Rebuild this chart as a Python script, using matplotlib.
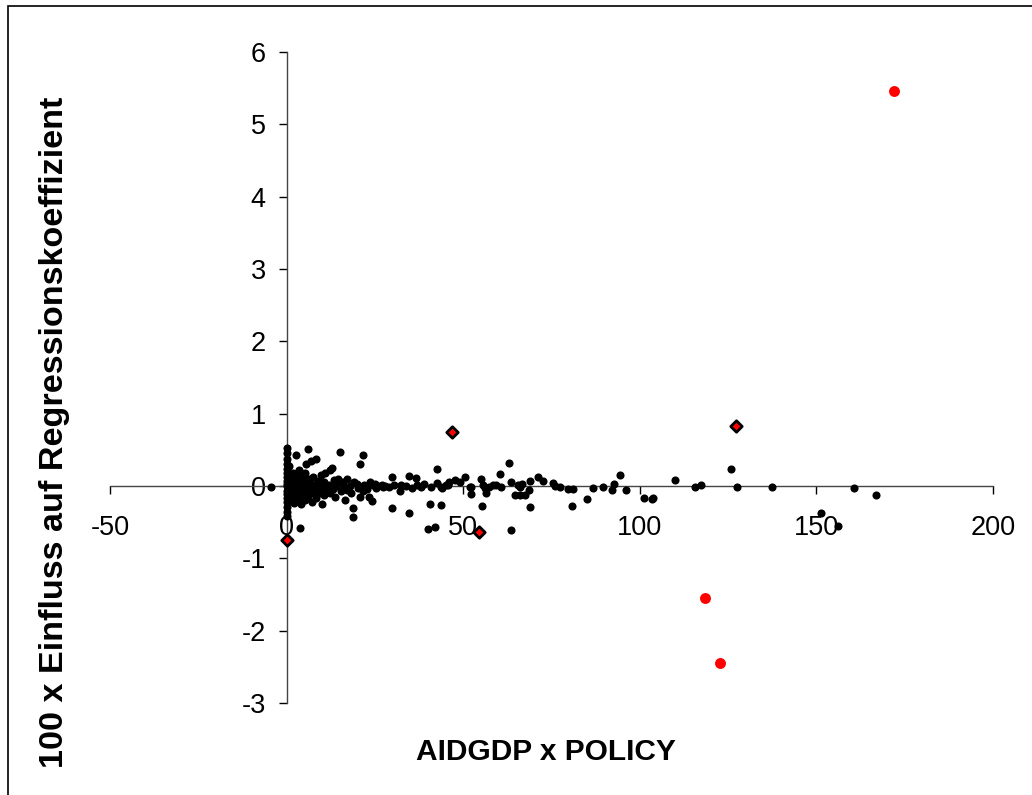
import matplotlib
matplotlib.use("Agg")
import matplotlib.pyplot as plt
from matplotlib.patches import Rectangle

plt.rcParams['font.family'] = ['Liberation Sans', 'DejaVu Sans']
plt.rcParams['axes.unicode_minus'] = False

# normale Beobachtungen (schwarz)
black_x = [
    -4.4,
    0.0, 0.0, 0.1, 0.0, 0.2, 0.1, 0.0, 0.2, 0.1, 0.0, 0.3, 0.1, 0.2, 0.0, 0.1, 0.0, 0.2, 0.0,
    0.8, 1.0, 0.9, 1.1, 1.0, 0.9, 1.2, 1.3,
    1.6, 1.5, 1.7, 1.8, 2.0, 2.1, 2.2, 2.0, 2.3,
    2.7, 2.8, 2.6, 2.9, 3.1, 3.2, 3.0, 3.7, 3.5, 3.6, 3.4,
    4.0, 4.1, 4.2, 4.3, 4.6, 4.7, 4.5, 5.0, 5.1, 5.2, 5.3, 5.6, 5.7,
    6.0, 6.1, 6.2, 6.3, 7.0, 6.9, 7.1, 7.2, 7.5, 7.6, 8.2, 8.0, 8.3, 8.4,
    9.0, 9.1, 9.2, 9.8, 9.9, 10.0, 10.5, 10.6, 10.8, 11.0, 11.3,
    12.2, 12.0, 12.3, 12.9, 13.0, 13.5, 13.6, 14.0, 14.5,
    15.0, 15.1, 15.3, 16.0, 16.2, 16.4, 17.0, 17.2, 18.0, 18.2, 18.8, 18.8, 19.0,
    20.0, 20.2, 20.7, 20.7, 21.6, 21.6, 21.8, 22.5, 22.8, 23.3, 23.5, 24.3, 24.5,
    25.0, 25.3, 26.0, 27.0, 27.3, 28.0, 29.0, 29.7, 29.7, 30.5, 32.0, 32.3, 33.7,
    34.6, 34.6, 35.5, 36.7, 36.9, 38.0, 39.0, 40.0, 40.7, 41.0, 41.9, 42.6, 42.7,
    43.6, 43.8, 44.1, 45.0, 45.6, 46.1, 47.6, 49.0, 50.4, 51.8, 52.1, 52.3,
    55.1, 55.6, 55.4, 56.1, 56.5, 57.3, 58.4, 59.4, 60.3, 60.8, 62.9, 63.4, 63.6,
    64.6, 65.5, 66.2, 66.2, 66.7, 67.4, 68.6, 68.8, 69.0, 71.3, 72.6, 75.4, 75.9,
    77.3, 79.6, 81.1, 80.7, 85.1, 86.7, 89.6, 92.2, 92.6, 94.5, 96.0,
    101.1, 103.5, 103.7, 109.9, 115.5, 117.4, 125.9, 127.4, 137.5,
    151.2, 156.2, 160.6, 166.9,
]
black_y = [
    -0.01,
    0.53, 0.45, 0.38, 0.31, 0.24, 0.18, 0.12, 0.07, 0.03, 0.00, -0.03, -0.07, -0.11, -0.17, -0.22, -0.29, -0.36, -0.41,
    0.28, 0.15, 0.08, 0.02, -0.04, -0.10, -0.20, 0.11,
    0.05, -0.05, -0.15, 0.18, 0.00, 0.12, -0.08, -0.24, 0.05,
    0.43, 0.00, -0.12, 0.07, 0.15, -0.06, 0.03, -0.58, 0.22, -0.18, 0.09,
    0.10, -0.02, -0.25, 0.04, -0.10, 0.13, 0.00, 0.05, -0.05, -0.20, 0.18, 0.30, -0.08,
    0.51, 0.00, -0.14, 0.09, 0.35, 0.03, -0.06, -0.22, 0.12, -0.10, 0.38, 0.02, -0.04, -0.17,
    0.07, -0.09, 0.00, 0.15, -0.03, -0.25, 0.05, -0.12, 0.18, 0.00, -0.06,
    0.22, 0.02, -0.10, 0.25, -0.04, 0.08, -0.15, 0.00, 0.10,
    0.47, 0.04, -0.07, 0.06, -0.02, -0.20, 0.10, -0.05, 0.00, -0.10, -0.30, -0.43, 0.05,
    0.03, -0.03, 0.31, -0.15, 0.43, -0.07, 0.02, 0.00, -0.04, -0.15, 0.05, -0.21, 0.01,
    0.03, -0.03, 0.00, 0.02, -0.02, 0.00, -0.02, 0.12, -0.30, 0.01, -0.07, 0.02, 0.00,
    0.14, -0.38, -0.03, 0.11, 0.01, -0.02, 0.03, -0.60, -0.25, -0.01, -0.56, 0.23, 0.04,
    -0.26, -0.01, -0.03, 0.02, 0.01, 0.05, 0.08, 0.06, 0.12, -0.01, -0.11, -0.01,
    0.09, 0.01, -0.28, -0.03, -0.09, -0.02, 0.02, 0.01, 0.16, -0.01, 0.32, -0.61, 0.05,
    -0.12, 0.01, -0.02, -0.13, 0.03, -0.12, -0.05, 0.07, -0.29, 0.13, 0.07, 0.04, 0.00,
    -0.02, -0.04, -0.04, -0.27, -0.18, -0.03, -0.01, -0.06, 0.03, 0.15, -0.05,
    -0.16, -0.18, -0.17, 0.08, -0.02, 0.01, 0.24, -0.01, -0.01,
    -0.37, -0.55, -0.03, -0.13,
]

# einflussreiche Beobachtungen (rot)
red_x = [171.9, 118.6, 122.6]
red_y = [5.46, -1.55, -2.45]

# markierte Beobachtungen (Raute)
dia_x = [46.7, 127.1, 0.0, 54.4]
dia_y = [0.75, 0.83, -0.75, -0.64]

fig = plt.figure(figsize=(10.32, 7.95), dpi=100)
ax = fig.add_axes([110 / 1032, 1 - 703 / 795, 883 / 1032, 651 / 795])

ax.scatter(black_x, black_y, s=34, c='black', linewidths=0, zorder=3, clip_on=False)
ax.scatter(red_x, red_y, s=62, c='#ff0000', linewidths=0, zorder=3, clip_on=False)
ax.scatter(dia_x, dia_y, s=34, marker='D', c='#ff0000', edgecolors='black',
           linewidths=2.0, zorder=4, clip_on=False)

ax.set_xlim(-50, 200)
ax.set_ylim(-3, 6)
ax.set_xticks(range(-50, 201, 50))
ax.set_yticks(range(-3, 7))

for side in ['top', 'right']:
    ax.spines[side].set_visible(False)
ax.spines['left'].set_position(('data', 0))
ax.spines['bottom'].set_position(('data', 0))
for side in ['left', 'bottom']:
    ax.spines[side].set_color('#444444')
    ax.spines[side].set_linewidth(1.0)

ax.tick_params(axis='both', direction='out', length=6, width=1.0, color='black',
               labelsize=19.5)
ax.tick_params(axis='x', pad=15)
ax.tick_params(axis='y', pad=9)
ax.patch.set_alpha(0)

fig.text(546 / 1032, 1 - 752 / 795, 'AIDGDP x POLICY', fontsize=21.5,
         fontweight='bold', ha='center', va='center')
fig.text(55 / 1032, 1 - 432 / 795, '100 x Einfluss auf Regressionskoeffizient',
         fontsize=24.6, fontweight='bold', rotation=90, ha='center', va='center')

# Rahmen um das Diagramm
fig.patches.append(Rectangle((8 / 1032, -0.05), 1.1, 1 - 6 / 795 + 0.05,
                             transform=fig.transFigure, fill=False,
                             edgecolor='black', linewidth=1.2))

fig.savefig('out.png', dpi=100)
